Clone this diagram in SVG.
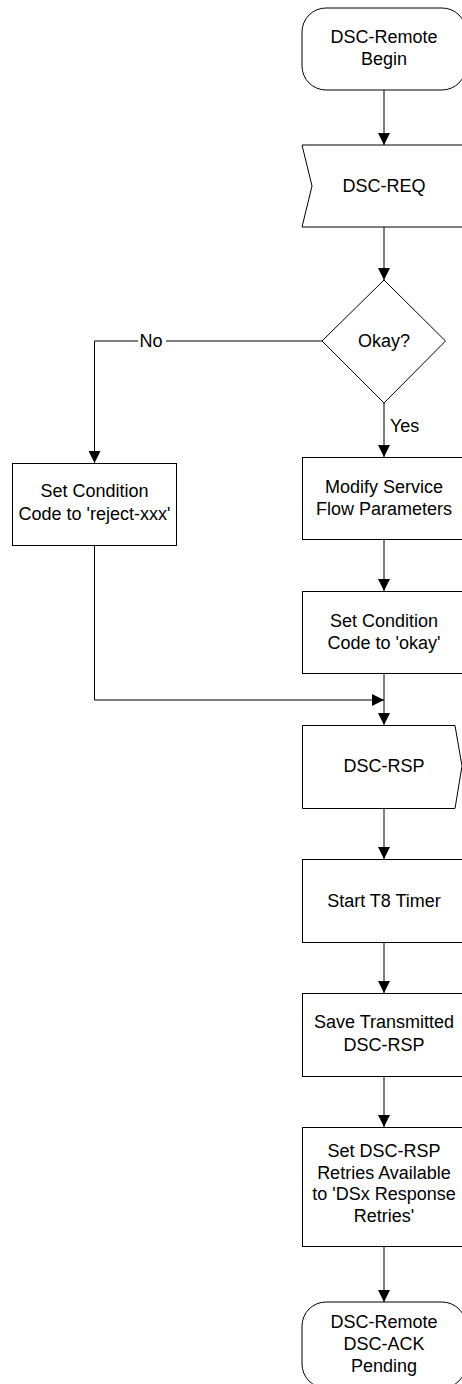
<svg xmlns="http://www.w3.org/2000/svg" width="462" height="1384" viewBox="0 0 462 1384">
<defs>
<marker id="arr" markerWidth="12" markerHeight="12" refX="12" refY="6" orient="auto" markerUnits="userSpaceOnUse">
<path d="M0,0 L12,6 L0,12 z" fill="#000"/>
</marker>
<style>
.s{fill:#fff;stroke:#000;stroke-width:1}
.t{font-family:"Liberation Sans",Arial,sans-serif;font-size:18px;fill:#000;text-anchor:middle}
.c{fill:none;stroke:#000;stroke-width:1;marker-end:url(#arr)}
</style>
</defs>
<rect width="462" height="1384" fill="#fff"/>
<g id="connectors">
<path class="c" d="M384,90 V145"/>
<path class="c" d="M384,227 V280"/>
<path class="c" d="M322,341 H94.5 V463"/>
<path class="c" d="M384,403 V457"/>
<path class="c" d="M384,539 V591"/>
<path class="c" d="M94.5,545 V700 H384"/>
<path class="c" d="M384,673 V725"/>
<path class="c" d="M384,808 V859"/>
<path class="c" d="M384,942 V993"/>
<path class="c" d="M384,1076 V1127"/>
<path class="c" d="M384,1246 V1302"/>
<rect x="138" y="330" width="28" height="20" fill="#fff"/>
<text class="t" x="151" y="347">No</text>
<text class="t" x="390" y="432" style="text-anchor:start">Yes</text>
</g>
<g id="begin">
<rect class="s" x="302" y="8" width="164" height="82" rx="24" ry="24"/>
<text class="t" x="384" y="43">DSC-Remote</text>
<text class="t" x="384" y="65">Begin</text>
</g>
<g id="dsc-req">
<path class="s" d="M302,145 H470 V227 H302 L312,186 Z"/>
<text class="t" x="384" y="192">DSC-REQ</text>
</g>
<g id="okay">
<path class="s" d="M384,280 L445.5,341 L384,403 L322,341 Z"/>
<text class="t" x="384" y="347">Okay?</text>
</g>
<g id="reject">
<rect class="s" x="12.5" y="463.5" width="164" height="82"/>
<text class="t" x="94.5" y="497">Set Condition</text>
<text class="t" x="94.5" y="520">Code to 'reject-xxx'</text>
</g>
<g id="modify">
<rect class="s" x="302.5" y="457.5" width="164" height="82"/>
<text class="t" x="384" y="493">Modify Service</text>
<text class="t" x="384" y="515">Flow Parameters</text>
</g>
<g id="set-okay">
<rect class="s" x="302.5" y="591.5" width="164" height="82"/>
<text class="t" x="384" y="627">Set Condition</text>
<text class="t" x="384" y="649">Code to 'okay'</text>
</g>
<g id="dsc-rsp">
<path class="s" d="M302.5,725.5 H455 L462,766 L455,808.5 H302.5 Z"/>
<text class="t" x="384" y="772">DSC-RSP</text>
</g>
<g id="t8">
<rect class="s" x="302.5" y="859.5" width="164" height="83"/>
<text class="t" x="384" y="907">Start T8 Timer</text>
</g>
<g id="save">
<rect class="s" x="302.5" y="993.5" width="164" height="83"/>
<text class="t" x="384" y="1028">Save Transmitted</text>
<text class="t" x="384" y="1051">DSC-RSP</text>
</g>
<g id="retries">
<rect class="s" x="302.5" y="1127.5" width="164" height="119"/>
<text class="t" x="384" y="1157">Set DSC-RSP</text>
<text class="t" x="384" y="1179">Retries Available</text>
<text class="t" x="384" y="1200">to 'DSx Response</text>
<text class="t" x="384" y="1222">Retries'</text>
</g>
<g id="pending">
<rect class="s" x="302" y="1302" width="164" height="86" rx="24" ry="24"/>
<text class="t" x="384" y="1328">DSC-Remote</text>
<text class="t" x="384" y="1350">DSC-ACK</text>
<text class="t" x="384" y="1372">Pending</text>
</g>
</svg>
